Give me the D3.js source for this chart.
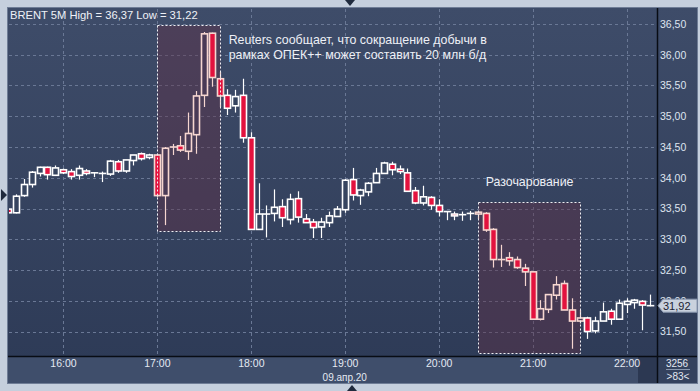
<!DOCTYPE html>
<html><head><meta charset="utf-8">
<script src="https://cdn.jsdelivr.net/npm/d3@7"></script>
<style>
html,body{margin:0;padding:0;background:#c5cfdd;}
svg{display:block;font-family:"Liberation Sans",Arial,sans-serif;}
</style></head>
<body>
<svg id="c" width="700" height="391"></svg>
<script>
// ---- data ----
const times = ["15:25","15:30","15:35","15:40","15:45","15:50","15:55",
"16:00","16:05","16:10","16:15","16:20","16:25","16:30","16:35","16:40","16:45","16:50","16:55",
"17:00","17:05","17:10","17:15","17:20","17:25","17:30","17:35","17:40","17:45","17:50","17:55",
"18:00","18:05","18:10","18:15","18:20","18:25","18:30","18:35","18:40","18:45","18:50","18:55",
"19:00","19:05","19:10","19:15","19:20","19:25","19:30","19:35","19:40","19:45","19:50","19:55",
"20:00","20:05","20:10","20:15","20:20","20:25","20:30","20:35","20:40","20:45","20:50","20:55",
"21:00","21:05","21:10","21:15","21:20","21:25","21:30","21:35","21:40","21:45","21:50","21:55",
"22:00","22:05","22:10","22:15"];
const open  = [33.49,33.43,33.71,33.89,34.07,34.17,34.04,34.13,34.10,34.04,34.11,34.08,34.07,34.06,34.26,34.11,34.28,34.39,34.33,
34.37,33.71,34.50,34.52,34.43,34.70,35.34,36.35,35.61,35.34,35.17,35.34,
34.65,33.16,33.41,33.42,33.53,33.32,33.66,33.33,33.28,33.20,33.27,33.37,
33.48,33.97,33.71,33.77,33.92,34.07,34.22,34.14,34.08,33.79,33.59,33.68,
33.55,33.45,33.41,33.40,33.42,33.41,33.42,33.16,32.67,32.70,32.67,32.53,
32.47,31.70,31.86,32.09,32.28,31.85,31.67,31.72,31.51,31.67,31.83,31.70,
31.94,31.97,31.99,31.92];
const high  = [33.50,33.73,33.98,34.11,34.18,34.18,34.20,34.15,34.14,34.20,34.14,34.09,34.10,34.29,34.29,34.29,34.37,34.41,34.39,
34.39,34.50,34.55,34.68,35.06,35.41,36.37,36.36,35.72,35.44,35.43,35.61,
34.74,33.91,33.55,33.81,33.65,33.74,33.78,33.41,33.33,33.35,33.45,33.54,
33.98,34.16,33.82,33.93,34.16,34.26,34.26,34.20,34.15,33.85,33.87,33.70,
33.65,33.45,33.45,33.45,33.46,33.46,33.44,33.18,32.91,32.79,32.72,32.60,
32.47,32.01,32.10,32.40,32.33,32.04,31.85,31.74,31.74,31.97,31.87,32.02,
32.04,32.03,32.01,32.10];
const low   = [33.42,33.42,33.69,33.84,34.02,33.97,34.03,34.06,33.97,33.97,34.04,34.01,33.93,34.03,34.08,34.08,34.20,34.28,34.30,
33.69,33.23,34.37,34.42,34.29,34.39,35.15,35.48,35.15,35.02,35.06,34.57,
33.15,33.16,33.03,33.29,33.20,33.24,33.27,33.27,33.02,33.02,33.20,33.37,
33.43,33.63,33.56,33.70,33.92,34.07,34.04,34.06,33.78,33.57,33.55,33.48,
33.37,33.31,33.31,33.30,33.31,33.33,33.12,32.54,32.55,32.57,32.52,32.24,
31.69,31.68,31.80,32.02,31.85,31.22,31.63,31.38,31.47,31.67,31.61,31.70,
31.80,31.87,31.52,31.91];
const close = [33.43,33.70,33.89,34.09,34.17,34.05,34.16,34.08,34.02,34.15,34.07,34.08,34.07,34.27,34.11,34.29,34.37,34.31,34.37,
33.71,34.48,34.50,34.45,34.72,35.33,36.34,35.63,35.33,35.13,35.32,34.65,
33.16,33.41,33.41,33.52,33.35,33.65,33.36,33.27,33.19,33.28,33.38,33.49,
33.96,33.72,33.80,33.91,34.07,34.24,34.13,34.10,33.78,33.59,33.69,33.55,
33.45,33.45,33.38,33.40,33.42,33.44,33.15,32.67,32.67,32.65,32.54,32.47,
31.70,31.87,32.10,32.26,31.85,31.67,31.72,31.50,31.67,31.82,31.70,31.96,
31.99,32.01,31.93,31.92];
const priceTicks = [31.5,32.0,32.5,33.0,33.5,34.0,34.5,35.0,35.5,36.0,36.5];
const hourTicks = ["16:00","17:00","18:00","19:00","20:00","21:00","22:00"];
const highlights = [
  {from:"17:00", to:"17:40", hi:36.48, lo:33.13},
  {from:"20:25", to:"21:30", hi:33.61, lo:31.15}
];
const notes = [
  {lines:["Reuters сообщает, что сокращение добычи в","рамках ОПЕК++ может составить 20 млн б/д"], t:"17:50", dx:-6.5, p:36.17},
  {lines:["Разочарование"], t:"20:30", dx:0, p:33.86}
];
const headerText = "BRENT 5M High = 36,37 Low = 31,22";
const dateLabel = "09.апр.20";
const lastPrice = 31.92;
const footTop = "3256", footBottom = ">83<";

// ---- layout ----
const parse = s => d3.timeParse("%Y-%m-%d %H:%M")("2020-04-09 " + s);
const data = times.map((t,i)=>({t:parse(t), o:open[i], h:high[i], l:low[i], c:close[i]}));
const L = 9, R = 657, T = 9, B = 356;
const x = d3.scaleTime().domain([parse(times[0]), parse(times[times.length-1])]).range([8.2, 650.0]);
const y = d3.scaleLinear().domain([31.5, 36.5]).range([331.5, 24]);
const fmt = v => d3.format(".2f")(v).replace(".", ",");

const svg = d3.select("#c");
const defs = svg.append("defs");
const g1 = defs.append("linearGradient").attr("id","bg").attr("x1",0).attr("y1",0).attr("x2",0).attr("y2",1);
g1.append("stop").attr("offset","0%").attr("stop-color","#3e4c69");
g1.append("stop").attr("offset","100%").attr("stop-color","#2d3a56");
defs.append("clipPath").attr("id","clip").append("rect").attr("x",L).attr("y",T).attr("width",R-L).attr("height",B-T);

// frame
svg.append("rect").attr("x",0).attr("y",0).attr("width",700).attr("height",391).attr("fill","#c5cfdd");
svg.append("rect").attr("x",7.5).attr("y",7.5).attr("width",690).attr("height",376).attr("fill","url(#bg)").attr("stroke","#6f7d96");
// bottom band
svg.append("rect").attr("x",8).attr("y",B).attr("width",R-8).attr("height",383-B).attr("fill","#3f4e6b");
svg.append("rect").attr("x",638).attr("y",B+1).attr("width",R-638).attr("height",383-B-1).attr("fill","#2c3852");
svg.append("rect").attr("x",R).attr("y",B).attr("width",697-R).attr("height",383-B).attr("fill","#34425e");

const plot = svg.append("g").attr("clip-path","url(#clip)");

// grid
plot.append("g").selectAll("line").data(priceTicks).join("line")
  .attr("x1",L).attr("x2",R).attr("y1",d=>Math.round(y(d))+0.5).attr("y2",d=>Math.round(y(d))+0.5)
  .attr("stroke","#6a7895").attr("stroke-dasharray","3,3");
plot.append("g").selectAll("line").data(hourTicks).join("line")
  .attr("x1",d=>Math.round(x(parse(d)))+0.5).attr("x2",d=>Math.round(x(parse(d)))+0.5).attr("y1",T).attr("y2",B)
  .attr("stroke","#6a7895").attr("stroke-dasharray","3,3");

// highlight fills
const hx = h => [x(parse(h.from)), x(parse(h.to))];
plot.append("g").selectAll("rect").data(highlights).join("rect")
  .attr("x",d=>Math.round(hx(d)[0])+0.5).attr("y",d=>Math.round(y(d.hi))+0.5)
  .attr("width",d=>Math.round(hx(d)[1]-hx(d)[0])).attr("height",d=>Math.round(y(d.lo)-y(d.hi)))
  .attr("fill","rgb(96,48,72)").attr("fill-opacity",0.45);

// candles
const inHL = d => highlights.some(h => d.t >= parse(h.from) && d.t <= parse(h.to));
const bw = 6;
const cg = plot.append("g").selectAll("g").data(data).join("g");
cg.append("line")
  .attr("x1",d=>Math.round(x(d.t))+0.5).attr("x2",d=>Math.round(x(d.t))+0.5)
  .attr("y1",d=>y(d.h)).attr("y2",d=>y(d.l))
  .attr("stroke",d=>inHL(d)?"#f6d6d0":"#ffffff").attr("stroke-width",1.2);
cg.append("rect")
  .attr("x",d=>Math.round(x(d.t))-bw/2+0.5)
  .attr("y",d=>y(Math.max(d.o,d.c)))
  .attr("width",bw)
  .attr("height",d=>Math.max(0.01, Math.abs(y(d.o)-y(d.c))))
  .attr("fill",d=>d.c<d.o?"#e3123e":(inHL(d)?"#4a3a56":"#36445f"))
  .attr("stroke",d=>inHL(d)?"#f6d6d0":"#ffffff").attr("stroke-width",1.6);

// highlight borders
plot.append("g").selectAll("rect").data(highlights).join("rect")
  .attr("x",d=>Math.round(hx(d)[0])+0.5).attr("y",d=>Math.round(y(d.hi))+0.5)
  .attr("width",d=>Math.round(hx(d)[1]-hx(d)[0])).attr("height",d=>Math.round(y(d.lo)-y(d.hi)))
  .attr("fill","none").attr("stroke","#f0f0f4").attr("stroke-width",1).attr("stroke-dasharray","2,2");

// notes
notes.forEach(n=>{
  const nx = x(parse(n.t)) + n.dx;
  const t = plot.append("text").attr("x",nx).attr("y",y(n.p))
    .attr("fill","#eef0f6").attr("font-size","12.4px");
  n.lines.forEach((s,i)=>t.append("tspan").attr("x",nx).attr("dy",i?15:0).text(s));
});

// header
svg.append("text").attr("x",10).attr("y",19).attr("fill","#eef1f7").attr("font-size","11.2px").text(headerText);

// frame lines
svg.append("line").attr("x1",R+0.5).attr("x2",R+0.5).attr("y1",8).attr("y2",383).attr("stroke","#080c14").attr("stroke-width",1.5);
svg.append("line").attr("x1",8).attr("x2",697).attr("y1",B+0.5).attr("y2",B+0.5).attr("stroke","#080c14").attr("stroke-width",1.5);

// right axis
const ya = svg.append("g").attr("transform",`translate(${R+3},0)`)
  .call(d3.axisRight(y).tickValues(priceTicks).tickFormat(fmt).tickSize(0).tickPadding(0));
ya.select(".domain").remove();
ya.selectAll("text").attr("fill","#dfe5f0").attr("font-size","10.5px").attr("font-family","Liberation Sans, Arial, sans-serif");

// last price tag
const ly = y(lastPrice);
svg.append("path").attr("d",`M${R+1},${ly} L${R+6},${ly-6.5} L697,${ly-6.5} L697,${ly+6.5} L${R+6},${ly+6.5} Z`)
  .attr("fill","#c9d1dd").attr("stroke","#8a98b0");
svg.append("text").attr("x",R+6).attr("y",ly+4).attr("fill","#1b2232").attr("font-size","11px").text(fmt(lastPrice));

// bottom axis
const xa = svg.append("g").attr("transform",`translate(0,${B+1.5})`)
  .call(d3.axisBottom(x).tickValues(hourTicks.map(parse)).tickFormat(d3.timeFormat("%H:%M")).tickSize(0).tickPadding(0));
xa.select(".domain").remove();
xa.selectAll("text").attr("fill","#e4e9f2").attr("font-size","10.5px").attr("font-family","Liberation Sans, Arial, sans-serif").attr("dy","0.9em");
svg.append("text").attr("x",x(parse("19:00"))).attr("y",380.5).attr("text-anchor","middle")
  .attr("fill","#e4e9f2").attr("font-size","10px").text(dateLabel);

// footer box
svg.append("text").attr("x",677).attr("y",366.5).attr("text-anchor","middle").attr("fill","#e4e9f2").attr("font-size","10px").text(footTop);
svg.append("line").attr("x1",666).attr("x2",690).attr("y1",369.5).attr("y2",369.5).attr("stroke","#8a98b0");
svg.append("text").attr("x",678).attr("y",380).attr("text-anchor","middle").attr("fill","#e4e9f2").attr("font-size","10px").text(footBottom);

// markers
svg.append("path").attr("d","M345,0 L355,0 L350,6 Z").attr("fill","#1f2a3d");
svg.append("path").attr("d","M347,391 L357,391 L352,385 Z").attr("fill","#1f2a3d");
svg.append("path").attr("d","M1,189 L7,195 L1,201 Z").attr("fill","#1f2a3d");
</script>
</body></html>
